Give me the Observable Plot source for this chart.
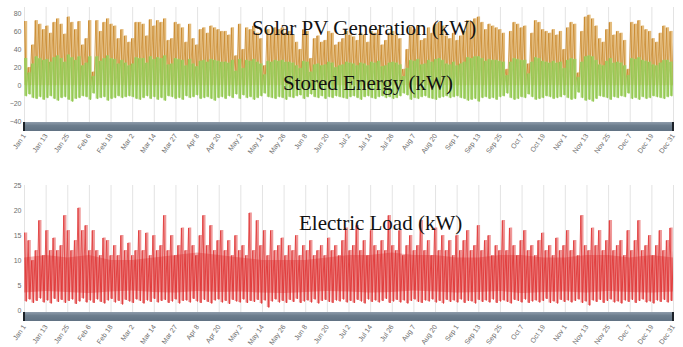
<!DOCTYPE html>
<html>
<head>
<meta charset="utf-8">
<script src="https://cdn.jsdelivr.net/npm/d3@7"></script>
<script src="https://cdn.jsdelivr.net/npm/@observablehq/plot@0.6"></script>
<style>
  html, body { margin: 0; padding: 0; background: #fff; }
  #wrap { position: relative; width: 683px; height: 347px; overflow: hidden; }
  .panel { position: absolute; left: 0; }
  .nav {
    position: absolute; height: 9px; box-sizing: border-box;
    background: linear-gradient(#8e9cab, #6c7d8d 40%, #617283);
    border-left: 2px solid #1c2229; border-right: 2px solid #1c2229;
  }
  #titles { position: absolute; left: 0; top: 0; pointer-events: none; }
</style>
</head>
<body>
<div id="wrap"></div>
<script>
// Date labels along both time axes (Jan 1 .. Dec 31, evenly spaced)
const tickLabels = ["Jan 1","Jan 13","Jan 25","Feb 6","Feb 18","Mar 2","Mar 14","Mar 27","Apr 8","Apr 20",
  "May 2","May 14","May 26","Jun 8","Jun 20","Jul 2","Jul 14","Jul 26","Aug 7","Aug 20",
  "Sep 1","Sep 13","Sep 25","Oct 7","Oct 19","Nov 1","Nov 13","Nov 25","Dec 7","Dec 19","Dec 31"];

// Solar PV generation: peak kW in each two-day window
const pvPeak = [
  71,20,45,72,68,62,66,58,70,74, 68,57,76,70,62,71,45,52,72,15,
  72,60,70,74,68,66,52,62,55,48, 52,70,70,68,55,73,66,72,70,74,
  50,52,70,68,64,48,68,52,45,62, 64,58,66,64,62,60,60,56,64,33,
  68,40,64,62,66,58,52,22,62,58, 64,62,64,58,60,56,48,40,62,60,
  30,52,55,48,50,60,58,45,48,52, 60,56,54,50,58,56,48,60,58,62,
  45,50,58,60,56,52,18,40,65,62, 66,50,52,64,58,68,70,66,55,52,
  58,50,55,60,72,71,74,76,70,62, 68,66,64,62,58,18,60,70,68,64,
  66,24,58,72,70,62,60,58,62,56, 60,40,64,70,68,14,60,76,78,74,
  66,52,48,62,70,56,60,58,50,18, 70,68,72,66,62,60,52,48,58,66,
  64,60,48
];

// Stored energy: highest and lowest kW in each two-day window
const storedHigh = [
  30,14,24,32,30,28,29,26,31,33, 30,26,34,31,28,32,22,25,32,10,
  32,27,30,33,30,29,24,28,25,22, 24,31,30,30,25,32,29,31,30,33,
  23,24,30,29,28,22,29,24,21,27, 28,26,29,28,27,26,26,25,28,16,
  29,19,28,27,29,26,24,12,27,26, 28,27,28,26,26,25,22,19,27,26,
  15,23,24,22,23,26,25,20,22,23, 26,25,24,22,25,24,22,26,25,27,
  21,22,25,26,25,23,10,19,28,27, 29,23,24,28,26,29,30,28,24,23,
  26,22,24,26,31,30,32,32,30,27, 29,28,28,27,26,11,26,30,29,28,
  28,13,26,31,30,27,26,25,27,25, 26,19,28,30,29,9,26,32,33,32,
  28,23,22,27,30,25,26,25,22,11, 30,29,31,28,27,26,23,22,25,28,
  28,26,21
];
const storedLow = [
  -12,-10,-14,-15,-13,-16,-14,-12,-15,-17, -14,-13,-16,-18,-15,-14,-12,-13,-16,-9,
  -15,-14,-13,-17,-15,-14,-12,-14,-13,-12, -13,-15,-16,-14,-12,-15,-13,-16,-14,-17,
  -12,-13,-15,-14,-16,-12,-14,-13,-11,-15, -14,-13,-15,-17,-14,-13,-15,-12,-14,-10,
  -15,-11,-14,-13,-16,-14,-12,-9,-13,-14, -15,-13,-14,-16,-13,-14,-12,-11,-15,-13,
  -10,-13,-14,-12,-15,-13,-14,-12,-13,-14, -15,-13,-12,-14,-16,-13,-12,-14,-15,-13,
  -12,-14,-13,-15,-14,-12,-9,-11,-16,-14, -15,-13,-12,-14,-15,-16,-14,-13,-12,-14,
  -13,-12,-14,-15,-17,-16,-15,-18,-14,-13, -15,-14,-16,-13,-12,-9,-14,-16,-15,-13,
  -14,-10,-13,-16,-15,-14,-12,-13,-15,-14, -13,-11,-14,-16,-15,-8,-14,-17,-16,-18,
  -15,-12,-13,-14,-16,-13,-14,-12,-13,-9, -15,-14,-16,-13,-15,-14,-12,-13,-14,-15,
  -13,-12,-10
];

// Electric load: highest and lowest kW in each two-day window
const loadHigh = [
  15.5,14,10,12,18,11,16,12,14.5,12, 13,19,16,12,14,20.5,16,17,12,16,
  12,11,14.5,14,11,13,11,15,12,13.5, 11,12,16,12,15.5,11,15,12,13,19,
  12,15,11,13,16.5,12,16.5,13,11,15, 19,13,17,12,14,16,12,14,11,15,
  12,13,11,19.5,12,18,13,16,11,16, 12,13,14.5,11,13,12,15,11,13,12,
  14,11,12,13,11,14.5,12,13,11,14, 16.5,12,13,17,12,14,11,16,13,12,
  14,12,19,13,12,16,11,13,15,12, 13,18,12,14,11,16.5,12,15,12,14,
  11,15,12,14,16,12,13,17,12,14, 15,11,13,12,18,12,16.5,13,11,14,
  16,12,13,11,14,15.5,12,13,11,14.5, 12,13,16,12,14,11,19,13,12,16.5,
  13,16,12,14,18,12,13,14,11,16, 12,14,18,12,13,15,11,13,16,12,
  14,16.5,12
];
const loadLow = [
  1.8,2.2,1.5,1.9,2.4,1.6,2.0,1.4,2.3,1.7, 2.1,1.5,1.9,2.2,1.3,1.8,2.4,1.6,2.0,1.5,
  2.2,1.7,1.4,2.0,2.3,1.6,1.9,1.2,2.1,1.8, 1.5,2.2,1.9,1.4,2.0,1.7,2.3,1.6,1.9,2.1,
  1.5,1.8,2.2,1.4,1.9,2.0,1.6,2.3,1.8,1.5, 2.1,1.7,1.4,2.0,2.2,1.6,1.9,1.3,2.1,1.8,
  1.6,2.2,1.5,1.9,1.7,2.1,1.4,2.0,0.6,1.8, 2.2,1.6,1.9,1.5,2.1,1.7,2.3,1.5,1.8,2.0,
  1.6,2.2,1.4,1.9,2.1,1.7,1.5,2.0,1.8,2.2, 1.6,1.9,1.5,2.1,1.8,1.4,2.2,1.7,2.0,1.6,
  1.9,2.3,1.5,1.8,2.1,1.6,2.0,1.4,1.9,2.2, 1.7,1.5,2.0,1.8,2.2,1.6,1.9,1.4,2.1,1.7,
  2.0,1.6,2.2,1.5,1.9,1.8,1.4,2.1,1.7,2.0, 1.6,2.2,1.5,1.8,2.0,1.7,1.4,2.1,1.9,1.6,
  2.2,1.5,1.8,2.0,1.6,1.9,2.3,1.5,1.8,1.4, 2.1,1.7,2.0,1.6,1.9,2.2,1.5,1.8,1.0,2.0,
  1.7,2.1,1.5,1.9,2.2,1.6,1.8,1.4,2.0,1.7, 2.1,1.5,1.9,2.2,1.6,1.8,1.4,2.0,1.7,2.1,
  1.6,1.9,2.2
];

// Typical (dense) load band, sampled at each date label
const loadCoreTop = [10.5,11,10.5,11,10,10,10.5,11,11.5,11,10.5,10,10,10,10.5,11,11,11.5,11,11,10.5,10.5,11,11,10.5,10.5,11,11,10.5,11,10.5];
const loadCoreBottom = [3.5,3.8,3.6,3.4,3.7,3.9,3.6,3.5,3.8,3.6,3.7,3.5,3.4,3.6,3.8,3.7,3.5,3.6,3.9,3.7,3.5,3.6,3.8,3.4,3.6,3.7,3.5,3.8,3.6,3.5,3.7];

const yearDays = 364;
const binDays = 2;
const tickDays = tickLabels.map((_, i) => i * yearDays / (tickLabels.length - 1));
const labelAt = new Map(tickDays.map((d, i) => [d, tickLabels[i]]));

// Each window is traced as a rise to its high and a fall to its low
function zigzag(highs, lows) {
  const rows = [];
  highs.forEach((h, i) => {
    rows.push({day: i * binDays, v: h});
    rows.push({day: i * binDays + binDays / 2, v: typeof lows === "number" ? lows : lows[i]});
  });
  return rows;
}
// Window-wide columns (one per two-day window)
function columns(highs, lows) {
  return highs.map((h, i) => ({
    x1: i * binDays + 0.2, x2: i * binDays + binDays - 0.2,
    hi: h, lo: typeof lows === "number" ? lows : lows[i]
  }));
}
const pvRows = zigzag(pvPeak, 0);
const pvCols = columns(pvPeak, 0);
const storedRows = zigzag(storedHigh, storedLow);
const storedCols = columns(storedHigh, storedLow);
const loadRows = zigzag(loadHigh, loadLow);
const loadCols = columns(loadHigh, loadLow);
const loadCore = tickDays.map((d, i) => ({day: d, hi: loadCoreTop[i], lo: loadCoreBottom[i]}));

const axisStyle = {
  fontFamily: "'Liberation Sans', Arial, sans-serif",
  fontSize: "7px",
  color: "#6e6e6e",
  background: "transparent"
};
const xAxis = (pad) => Plot.axisX({
  ticks: tickDays, tickFormat: d => labelAt.get(d), tickRotate: -55,
  tickSize: 0, tickPadding: pad, label: null, fill: "#6e6e6e"
});

const wrap = document.getElementById("wrap");

const energyChart = Plot.plot({
  width: 683, height: 170,
  marginLeft: 24, marginRight: 10, marginTop: 7, marginBottom: 48,
  x: {domain: [0, yearDays]},
  y: {domain: [-41, 86.5]},
  style: axisStyle,
  marks: [
    Plot.gridX(tickDays, {stroke: "#dcdcdc", strokeOpacity: 0.8}),
    Plot.rect(pvCols, {x1: "x1", x2: "x2", y1: "lo", y2: "hi", fill: "#d69838", fillOpacity: 0.65, clip: true}),
    Plot.lineY(pvRows, {x: "day", y: "v", stroke: "#c4801f", strokeWidth: 1, strokeOpacity: 0.7, clip: true}),
    Plot.rect(storedCols, {x1: "x1", x2: "x2", y1: "lo", y2: "hi", fill: "#9fd063", fillOpacity: 0.88, clip: true}),
    Plot.lineY(storedRows, {x: "day", y: "v", stroke: "#8cc546", strokeWidth: 1, strokeOpacity: 0.6, clip: true}),
    Plot.axisY({ticks: [-40, -20, 0, 20, 40, 60, 80], tickSize: 0, tickPadding: 3, label: null, fill: "#6e6e6e"}),
    xAxis(12)
  ]
});
energyChart.classList.add("panel");
energyChart.style.top = "0px";
wrap.appendChild(energyChart);

const loadChart = Plot.plot({
  width: 683, height: 177,
  marginLeft: 24, marginRight: 10, marginTop: 15, marginBottom: 35,
  x: {domain: [0, yearDays]},
  y: {domain: [-0.4, 25]},
  style: axisStyle,
  marks: [
    Plot.gridX(tickDays, {stroke: "#dcdcdc", strokeOpacity: 0.8}),
    Plot.rect(loadCols, {x1: "x1", x2: "x2", y1: "lo", y2: "hi", fill: "#e97070", fillOpacity: 0.72, clip: true}),
    Plot.lineY(loadRows, {x: "day", y: "v", stroke: "#e03c3c", strokeWidth: 1, strokeOpacity: 0.85, clip: true}),
    Plot.areaY(loadCore, {x: "day", y1: "lo", y2: "hi", fill: "#dc2626", fillOpacity: 0.35, clip: true}),
    Plot.axisY({ticks: [0, 5, 10, 15, 20, 25], tickSize: 0, tickPadding: 3, label: null, fill: "#6e6e6e"}),
    xAxis(13)
  ]
});
loadChart.classList.add("panel");
loadChart.style.top = "170px";
wrap.appendChild(loadChart);

// Range navigator strip under each chart
function addNavigator(chart, offsetTop) {
  const x = chart.scale("x");
  const y = chart.scale("y");
  const left = x.apply(x.domain[0]);
  const right = x.apply(x.domain[1]);
  const top = y.apply(y.domain[0]);
  const nav = document.createElement("div");
  nav.className = "nav";
  nav.style.left = (left - 1) + "px";
  nav.style.width = (right - left + 2) + "px";
  nav.style.top = (offsetTop + top) + "px";
  wrap.appendChild(nav);
}
addNavigator(energyChart, 0);
addNavigator(loadChart, 170);

// Series names written over the charts
const titles = d3.select(wrap).append("svg")
  .attr("id", "titles").attr("width", 683).attr("height", 347);
titles.selectAll("text")
  .data([
    {t: "Solar PV Generation (kW)", x: 252, y: 35},
    {t: "Stored Energy (kW)", x: 283, y: 90},
    {t: "Electric Load (kW)", x: 299, y: 230}
  ])
  .join("text")
  .attr("x", d => d.x).attr("y", d => d.y)
  .attr("font-family", "'Liberation Serif', 'Times New Roman', serif")
  .attr("font-size", 21)
  .attr("fill", "#111")
  .text(d => d.t);
</script>
</body>
</html>
